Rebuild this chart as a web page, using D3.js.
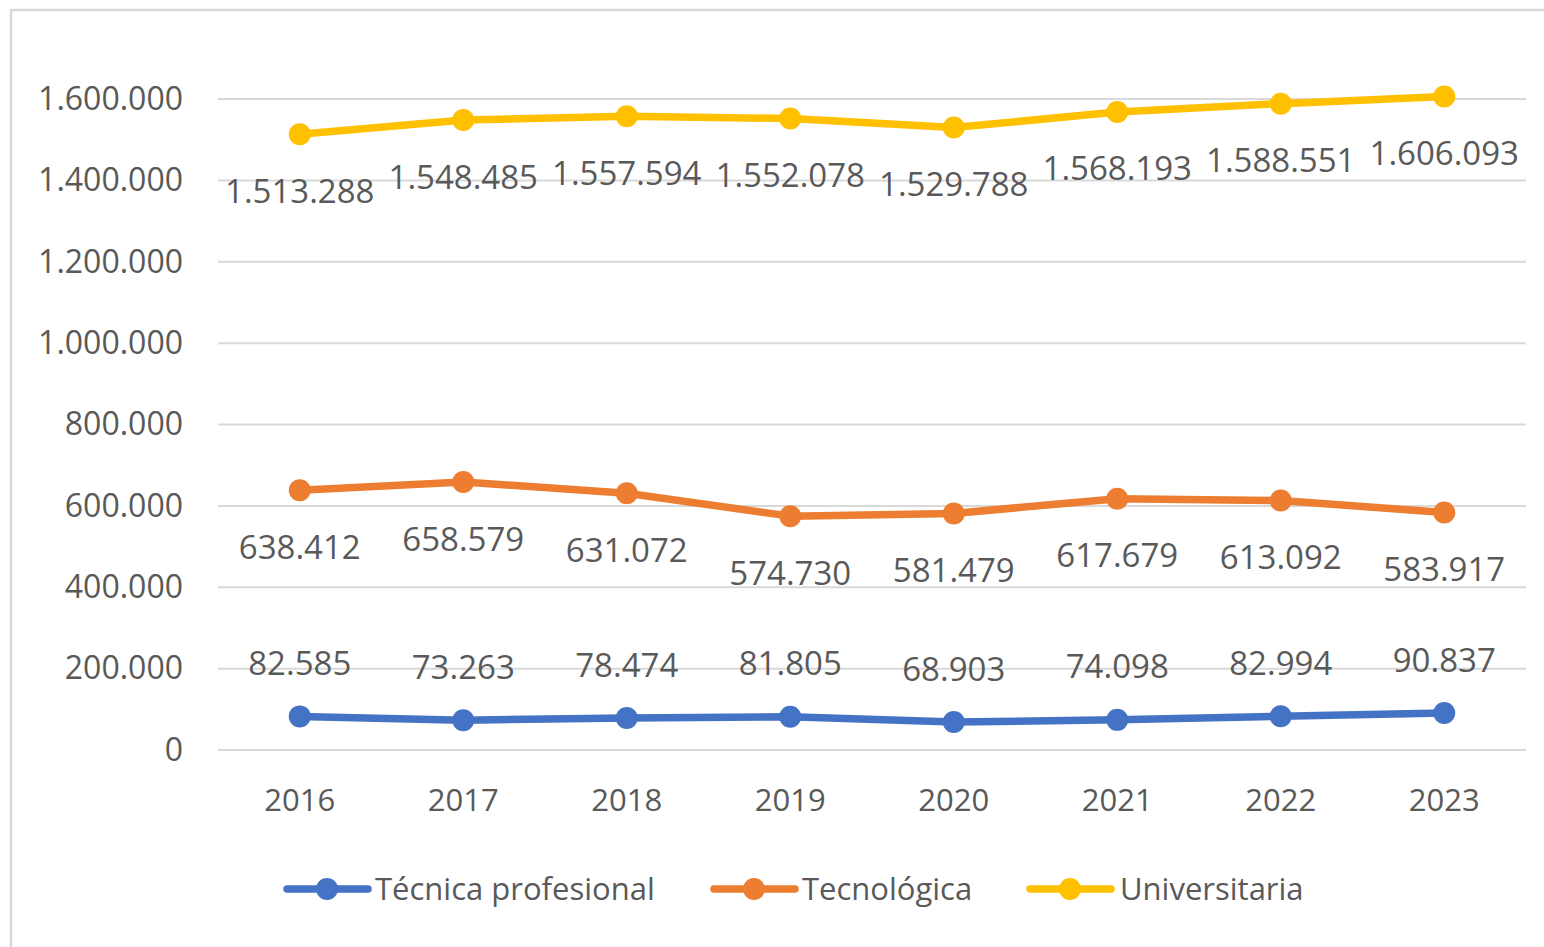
<!DOCTYPE html>
<html>
<head>
<meta charset="utf-8">
<script src="https://cdn.jsdelivr.net/npm/d3@7"></script>
<style>
  body { margin: 0; background: #ffffff; }
  text { font-family: 'Open Sans', sans-serif; fill: #595959; }
</style>
</head>
<body>
<div id="chart"></div>
<script>
const years = ['2016', '2017', '2018', '2019', '2020', '2021', '2022', '2023'];
const tecnica = [82585, 73263, 78474, 81805, 68903, 74098, 82994, 90837];
const tecnologica = [638412, 658579, 631072, 574730, 581479, 617679, 613092, 583917];
const universitaria = [1513288, 1548485, 1557594, 1552078, 1529788, 1568193, 1588551, 1606093];
const yTicks = [0, 200000, 400000, 600000, 800000, 1000000, 1200000, 1400000, 1600000];

const series = [
  {name: 'Técnica profesional', values: tecnica, color: '#4472C4', labelPos: 'above'},
  {name: 'Tecnológica', values: tecnologica, color: '#ED7D31', labelPos: 'below'},
  {name: 'Universitaria', values: universitaria, color: '#FFC000', labelPos: 'below'}
];

const totalWidth = 1544, totalHeight = 947;
const plot = {left: 218, right: 1526, top: 99, bottom: 750};

const fmt = d3.formatLocale({decimal: ',', thousands: '.', grouping: [3], currency: ['', '']}).format(',d');

const svg = d3.select('#chart').append('svg')
    .attr('width', totalWidth)
    .attr('height', totalHeight);

// chart frame (only top and left edges are visible in the crop)
svg.append('path')
    .attr('d', 'M11,' + totalHeight + 'V10H' + totalWidth)
    .attr('fill', 'none')
    .attr('stroke', '#d9d9d9')
    .attr('stroke-width', 2.5);

const xScale = d3.scaleBand().domain(years).range([plot.left, plot.right]);
const yScale = d3.scaleLinear().domain([0, 1600000]).range([plot.bottom, plot.top]);

// gridlines
svg.append('g')
    .selectAll('line')
    .data(yTicks)
  .enter().append('line')
    .attr('x1', plot.left)
    .attr('x2', plot.right)
    .attr('y1', d => yScale(d))
    .attr('y2', d => yScale(d))
    .attr('stroke', '#d9d9d9')
    .attr('stroke-width', 2);

// y axis labels
const yAxis = svg.append('g')
    .attr('transform', 'translate(' + (plot.left - 35) + ',0)')
    .call(d3.axisLeft(yScale).tickValues(yTicks).tickFormat(fmt).tickSize(0).tickPadding(0));
yAxis.select('.domain').remove();
yAxis.selectAll('text')
    .style('font-size', '32px')
    .style('font-family', "'Open Sans', sans-serif")
    .attr('fill', '#595959');

// x axis labels
const xAxis = svg.append('g')
    .attr('transform', 'translate(0,' + (plot.bottom + 39) + ')')
    .call(d3.axisBottom(xScale).tickSize(0).tickPadding(0));
xAxis.select('.domain').remove();
xAxis.selectAll('text')
    .style('font-size', '31px')
    .style('font-family', "'Open Sans', sans-serif")
    .attr('fill', '#595959');

const line = d3.line()
    .x((d, i) => xScale(years[i]) + xScale.bandwidth() / 2)
    .y(d => yScale(d));

series.forEach(function(s) {
  const g = svg.append('g');

  g.append('path')
      .datum(s.values)
      .attr('fill', 'none')
      .attr('stroke', s.color)
      .attr('stroke-width', 7.5)
      .attr('stroke-linejoin', 'round')
      .attr('d', line);

  g.selectAll('circle')
      .data(s.values)
    .enter().append('circle')
      .attr('cx', (d, i) => xScale(years[i]) + xScale.bandwidth() / 2)
      .attr('cy', d => yScale(d))
      .attr('r', 11)
      .attr('fill', s.color);

  g.selectAll('text')
      .data(s.values)
    .enter().append('text')
      .attr('x', (d, i) => xScale(years[i]) + xScale.bandwidth() / 2)
      .attr('y', d => yScale(d) + (s.labelPos === 'above' ? -53 : 57))
      .attr('dy', '0.35em')
      .attr('text-anchor', 'middle')
      .style('font-size', '33px')
      .text(d => fmt(d));
});

// legend
const legendItems = [
  {x: 287, textX: 375},
  {x: 714, textX: 802},
  {x: 1030, textX: 1120}
];
const legendY = 889;
const legend = svg.append('g');
series.forEach(function(s, i) {
  const li = legendItems[i];
  legend.append('line')
      .attr('x1', li.x)
      .attr('x2', li.x + 81)
      .attr('y1', legendY)
      .attr('y2', legendY)
      .attr('stroke', s.color)
      .attr('stroke-width', 7.5)
      .attr('stroke-linecap', 'round');
  legend.append('circle')
      .attr('cx', li.x + 40)
      .attr('cy', legendY)
      .attr('r', 11)
      .attr('fill', s.color);
  legend.append('text')
      .attr('x', li.textX)
      .attr('y', legendY)
      .attr('dy', '0.35em')
      .style('font-size', '31px')
      .text(s.name);
});
</script>
</body>
</html>
